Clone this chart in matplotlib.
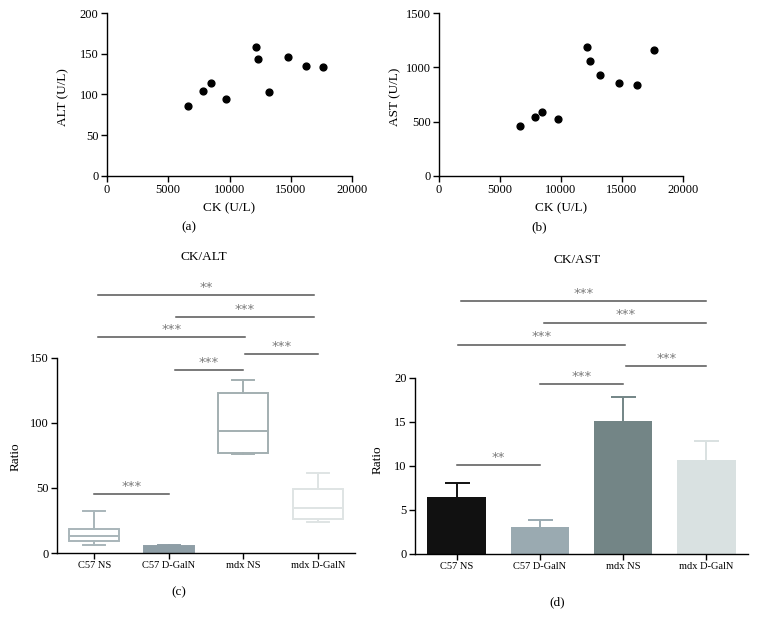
import numpy as np
import matplotlib
matplotlib.use('Agg')
import matplotlib.pyplot as plt

plt.rcParams['font.family'] = ['Liberation Serif', 'DejaVu Serif']

# scatter data (a) and (b)
ck = [6640, 7840, 8470, 9740, 12160, 12360, 13220, 14760, 16220, 17660]
alt = [85.7, 104.5, 113.5, 94.7, 158.6, 143.4, 102.5, 145.9, 134.4, 133.2]
ast = [458, 541, 587, 526, 1183, 1057, 934, 855, 842, 1159]

groups = ['C57 NS', 'C57 D-GalN', 'mdx NS', 'mdx D-GalN']

# box stats for CK/ALT (whislo, q1, med, q3, whishi)
box_lo = [6.4, 0.4, 76.3, 23.8]
box_q1 = [9.2, 0.6, 76.8, 26.1]
box_med = [13.0, 3.0, 94.2, 34.8]
box_q3 = [18.2, 5.3, 123.4, 49.4]
box_hi = [32.0, 5.9, 133.4, 61.2]

# bars for CK/AST
ast_mean = [6.45, 3.1, 15.15, 10.7]
ast_err = [1.65, 0.8, 2.7, 2.15]

# significance brackets: (i, j, y, label)
sig_c = [(0, 1, 45.3, '***'), (1.08, 2, 140.5, '***'), (2.02, 3, 153.3, '***'),
         (0.05, 2.02, 166.1, '***'), (1.1, 2.95, 181.7, '***'), (0.05, 2.95, 198.6, '**')]
sig_d = [(0, 1, 10.06, '**'), (1.0, 2, 19.32, '***'), (2.04, 3, 21.33, '***'),
         (0.02, 2.02, 23.8, '***'), (1.05, 3, 26.3, '***'), (0.05, 3, 28.7, '***')]

W, H = 757, 618
fig = plt.figure(figsize=(W / 100, H / 100), dpi=100)


def px_axes(l, t, r, b):
    return fig.add_axes([l / W, 1 - b / H, (r - l) / W, (b - t) / H])


def style(ax):
    for s in ['top', 'right']:
        ax.spines[s].set_visible(False)
    for s in ['left', 'bottom']:
        ax.spines[s].set_linewidth(1.0)
    ax.tick_params(direction='out', length=4, width=1, labelsize=9, pad=2)


def ftext(x, y, s, **kw):
    fig.text(x / W, 1 - y / H, s, ha='center', va='center', **kw)


# (a)
ax1 = px_axes(107, 13, 352, 176)
ax1.scatter(ck, alt, s=24, color='black', zorder=3)
ax1.set_xlim(0, 20000)
ax1.set_ylim(0, 200)
ax1.set_xticks(range(0, 20001, 5000))
ax1.set_yticks(range(0, 201, 50))
style(ax1)
ftext(63, 97, 'ALT (U/L)', rotation=90, fontsize=9.5)
ftext(229, 208, 'CK (U/L)', fontsize=9.5)
ftext(189, 227, '(a)', fontsize=9.5)

# (b)
ax2 = px_axes(439, 13, 683, 176)
ax2.scatter(ck, ast, s=24, color='black', zorder=3)
ax2.set_xlim(0, 20000)
ax2.set_ylim(0, 1500)
ax2.set_xticks(range(0, 20001, 5000))
ax2.set_yticks(range(0, 1501, 500))
style(ax2)
ftext(395, 97, 'AST (U/L)', rotation=90, fontsize=9.5)
ftext(561, 208, 'CK (U/L)', fontsize=9.5)
ftext(539, 227, '(b)', fontsize=9.5)


def brackets(ax, sigs):
    for i, j, y, lab in sigs:
        ax.plot([i, j], [y, y], color='#555555', lw=1.1, clip_on=False)
        ax.annotate(lab, xy=((i + j) / 2, y), xytext=(0, 5.5), textcoords='offset points',
                    ha='center', va='center', fontsize=9.5, color='#7a7a7a',
                    family='DejaVu Sans', annotation_clip=False)


# (c) box plot
ax3 = px_axes(57, 358, 355, 553)
box_edge = ['#a9b6ba', '#8e9ea6', '#a3afb1', '#dfe4e4']
box_face = ['white', '#8e9ea6', 'white', 'white']
stats = []
for k in range(4):
    stats.append(dict(whislo=box_lo[k], q1=box_q1[k], med=box_med[k],
                      q3=box_q3[k], whishi=box_hi[k], label=groups[k]))
for k in range(4):
    c = box_edge[k]
    ax3.bxp([stats[k]], positions=[k], widths=0.67, showfliers=False, patch_artist=True,
            boxprops=dict(facecolor=box_face[k], edgecolor=c, linewidth=1.4),
            medianprops=dict(color=c, linewidth=1.4),
            whiskerprops=dict(color=c, linewidth=1.4),
            capprops=dict(color=c, linewidth=1.4), capwidths=0.3)
ax3.set_xlim(-0.5, 3.5)
ax3.set_ylim(0, 150)
ax3.set_yticks([0, 50, 100, 150])
ax3.set_xticks(range(4))
style(ax3)
ax3.set_xticklabels(groups, fontsize=7.5)
brackets(ax3, sig_c)
ftext(16, 457, 'Ratio', rotation=90, fontsize=9.5)
ftext(204, 257, 'CK/ALT', fontsize=9.5)
ftext(179, 592, '(c)', fontsize=9.5)

# (d) bar chart
ax4 = px_axes(415, 378, 748, 554)
bar_col = ['#111111', '#9aaab1', '#738586', '#d9e1e1']
x = np.arange(4)
ax4.bar(x, ast_mean, width=0.7, color=bar_col, zorder=2)
for k in range(4):
    ax4.errorbar(x[k], ast_mean[k], yerr=ast_err[k], color=bar_col[k],
                 capsize=9, elinewidth=1.4, capthick=1.4, zorder=1)
ax4.set_xlim(-0.5, 3.5)
ax4.set_ylim(0, 20)
ax4.set_yticks([0, 5, 10, 15, 20])
ax4.set_xticks(x)
style(ax4)
ax4.set_xticklabels(groups, fontsize=7.5)
brackets(ax4, sig_d)
ftext(378, 460, 'Ratio', rotation=90, fontsize=9.5)
ftext(577, 260, 'CK/AST', fontsize=9.5)
ftext(557, 602, '(d)', fontsize=9.5)

plt.savefig('out.png', dpi=100)
